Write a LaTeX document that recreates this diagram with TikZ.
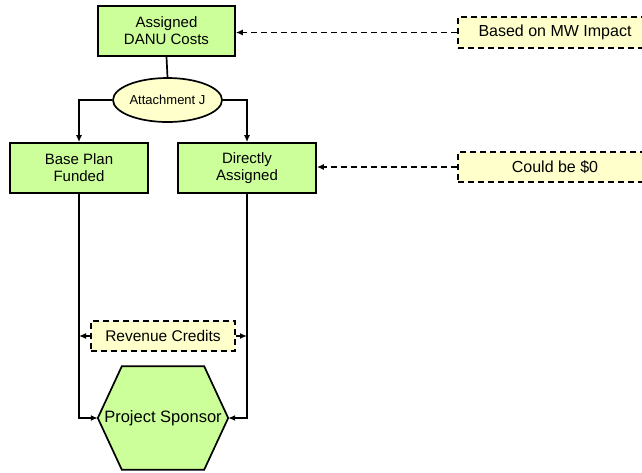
\documentclass[tikz,border=0pt]{standalone}
\usepackage{fontspec}
\setmainfont{Liberation Sans}
\usetikzlibrary{shapes.geometric,arrows.meta,backgrounds}
\definecolor{boxgreen}{HTML}{CCFF99}
\definecolor{boxyellow}{HTML}{FFFFCC}
\tikzset{
  greenbox/.style={draw=black, line width=1.7pt, fill=boxgreen, align=center,
    minimum width=137pt, minimum height=50pt, inner sep=2pt, font=\fontsize{15}{17}\selectfont},
  notebox/.style={draw=black, line width=1.7pt, dash pattern=on 6pt off 4pt, fill=boxyellow, align=center,
    minimum width=194pt, minimum height=30pt, inner sep=2pt, font=\fontsize{16}{18}\selectfont},
  hexbox/.style={draw=none, minimum width=130pt, minimum height=103pt, inner sep=0pt, font=\fontsize{16.5}{18}\selectfont},
  conn/.style={draw=black, line width=1.7pt, -{Latex[length=7pt,width=6pt]}},
  dconn/.style={draw=black, line width=1.7pt, dash pattern=on 6pt off 4pt, -{Latex[length=7pt,width=6pt]}},
  plain/.style={draw=black, line width=1.7pt}
}
\begin{document}
\begin{tikzpicture}[x=1pt,y=-1pt]
\useasboundingbox (0,0) rectangle (642,472);
\node[greenbox] (top) at (166.5,31) {Assigned\\DANU Costs};
\node[draw=black, line width=1.7pt, fill=boxyellow, ellipse, minimum width=109pt, minimum height=44pt, inner sep=0pt,
  font=\fontsize{13}{15}\selectfont] (att) at (167.5,100) {Attachment J};
\node[greenbox, minimum width=138pt] (bp) at (79,168) {Base Plan\\Funded};
\node[greenbox, minimum width=138pt] (da) at (247,168) {Directly\\Assigned};
\node[notebox, minimum width=144pt, font=\fontsize{15.5}{18}\selectfont] (rc) at (163,336) {Revenue Credits};
\node[hexbox] (ps) at (163,418) {Project Sponsor};
\begin{scope}[on background layer]
\draw[line width=1.7pt, fill=boxgreen, line join=miter]
  (ps.west) -- ([xshift=24pt]ps.north west) -- ([xshift=-24pt]ps.north east) -- (ps.east)
  -- ([xshift=-24pt]ps.south east) -- ([xshift=24pt]ps.south west) -- cycle;
\end{scope}
\node[notebox, minimum height=31pt] (mw) at (555,32.5) {Based on MW Impact};
\node[notebox] (zero) at (555,167) {Could be \$0};

\draw[plain] (top.south) -- (att.north);
\draw[conn] (att.west) -| (bp.north);
\draw[conn] (att.east) -| (da.north);
\draw[conn] (bp.south) |- (ps.west);
\draw[conn] (da.south) |- (ps.east);
\draw[dconn] (rc.west) -- (rc.west -| bp.south);
\draw[dconn] (rc.east) -- (rc.east -| da.south);
\draw[dconn] (mw.west) -- (mw.west -| top.east);
\draw[dconn] (zero.west) -- (zero.west -| da.east);
\end{tikzpicture}
\end{document}
